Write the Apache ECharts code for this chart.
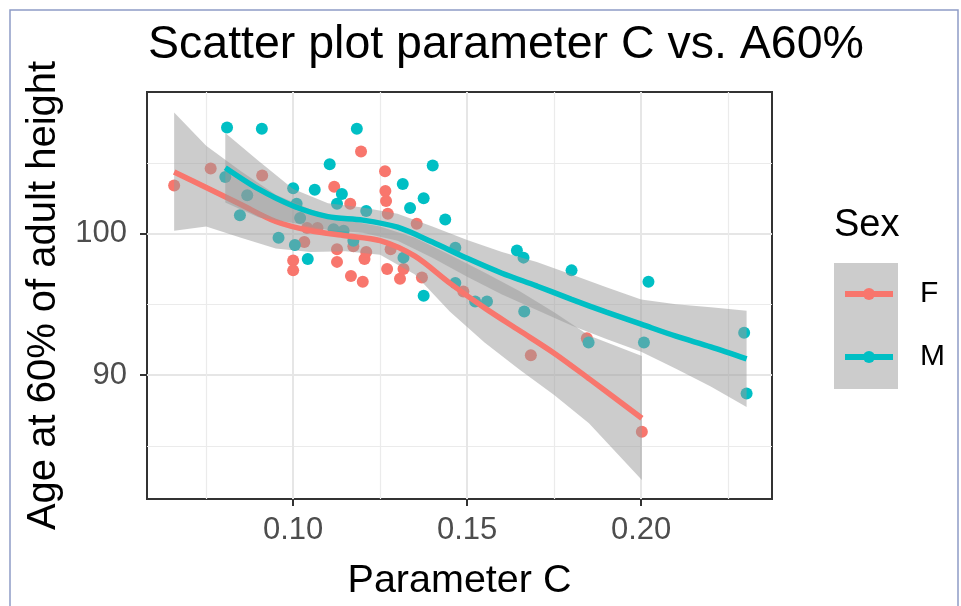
<!DOCTYPE html>
<html>
<head>
<meta charset="utf-8">
<title>Scatter plot parameter C vs. A60%</title>
<script src="https://cdn.jsdelivr.net/npm/echarts@6/dist/echarts.min.js"></script>
<style>
  html, body { margin: 0; padding: 0; background: #fff; }
  #main { width: 961px; height: 606px; }
</style>
</head>
<body>
<div id="main"></div>
<script>
// points
var femaleC   = [0.0658, 0.0763, 0.0911, 0.1000, 0.1000, 0.1032, 0.1040, 0.1070, 0.1118, 0.1126, 0.1126, 0.1164, 0.1166, 0.1173, 0.1195, 0.1200, 0.1205, 0.1210, 0.1264, 0.1265, 0.1267, 0.1272, 0.1280, 0.1270, 0.1307, 0.1317, 0.1355, 0.1370, 0.1489, 0.1683, 0.1844, 0.2002];
var femaleAge = [103.4, 104.6, 104.1, 98.1, 97.4, 99.4, 100.4, 100.4, 103.3, 98.9, 98.0, 102.1, 97.0, 99.1, 105.8, 96.6, 98.2, 98.7, 104.4, 103.0, 102.3, 101.4, 98.9, 97.5, 96.8, 97.5, 100.7, 96.9, 95.9, 91.4, 92.6, 86.0];

var maleC   = [0.0810, 0.0910, 0.0805, 0.0868, 0.0847, 0.0958, 0.1000, 0.1010, 0.1020, 0.1005, 0.1042, 0.1062, 0.1105, 0.1116, 0.1126, 0.1140, 0.1145, 0.1173, 0.1183, 0.1210, 0.1315, 0.1317, 0.1336, 0.1375, 0.1375, 0.1401, 0.1437, 0.1466, 0.1466, 0.1523, 0.1557, 0.1643, 0.1662, 0.1664, 0.1800, 0.1849, 0.2008, 0.2021, 0.2296, 0.2303];
var maleAge = [107.5, 107.4, 104.0, 102.7, 101.3, 99.7, 103.2, 102.1, 101.1, 99.2, 98.2, 103.1, 104.9, 100.3, 102.1, 102.8, 100.2, 99.5, 107.4, 101.6, 103.5, 98.3, 101.8, 102.5, 95.6, 104.8, 101.0, 99.0, 96.5, 95.2, 95.2, 98.8, 98.3, 94.5, 97.4, 92.3, 92.3, 96.6, 93.0, 88.7];

// loess curves and their bands
var fitFx  = [0.0658, 0.075, 0.085, 0.095, 0.105, 0.115, 0.125, 0.135, 0.145, 0.155, 0.165, 0.175, 0.185, 0.2002];
var fitF   = [104.35, 103.25, 102.05, 100.85, 100.2, 99.85, 99.5, 98.4, 96.5, 94.75, 93.15, 91.55, 89.75, 86.95];
var loF    = [100.2, 100.5, 99.7, 98.95, 98.7, 98.75, 98.5, 97.1, 94.5, 92.3, 90.4, 88.6, 86.6, 82.6];
var hiF    = [108.55, 106.2, 104.4, 102.75, 101.7, 100.95, 100.5, 99.7, 98.5, 97.25, 95.95, 94.45, 92.8, 91.35];

var fitMx  = [0.0805, 0.09, 0.10, 0.11, 0.12, 0.13, 0.14, 0.15, 0.16, 0.17, 0.18, 0.19, 0.20, 0.21, 0.22, 0.2303];
var fitM   = [104.65, 103.15, 101.95, 101.2, 100.95, 100.45, 99.4, 98.25, 97.2, 96.3, 95.35, 94.45, 93.6, 92.75, 92.0, 91.15];
var loM    = [102.2, 101.15, 100.75, 100.25, 100.05, 99.5, 98.3, 96.95, 95.7, 94.6, 93.5, 92.55, 91.65, 90.45, 89.2, 87.75];
var hiM    = [107.1, 105.15, 103.15, 102.15, 101.85, 101.4, 100.5, 99.55, 98.7, 98.0, 97.1, 96.2, 95.35, 95.0, 94.8, 94.55];

var xTicks = [0.10, 0.15, 0.20];
var xMinor = [0.075, 0.125, 0.175, 0.225];
var yTicks = [90, 100];
var yMinor = [85, 95, 105];

var RED = '#F8766D', TEAL = '#00BFC4';
var FONT = 'Liberation Sans, Arial, sans-serif';

function pairs(xs, ys) {
    return xs.map(function (x, i) { return [x, ys[i]]; });
}

var myChart = echarts.init(document.getElementById('main'));

var gridLine = { show: true, lineStyle: { color: '#E6E6E6', width: 2 } };
var minorLine = { show: true, lineStyle: { color: '#EBEBEB', width: 1.2 } };

// grey confidence ribbon: one polygon, upper edge then lower edge back
function bandSeries(name, xs, lo, hi, z) {
    return {
        name: name + ' se', type: 'custom', silent: true, z: z,
        data: xs.map(function (x, i) { return [x, lo[i], hi[i]]; }),
        encode: { x: 0, y: [1, 2] },
        renderItem: function (params, api) {
            if (params.dataIndex !== 0) return null;
            var pts = [];
            for (var i = 0; i < xs.length; i++) pts.push(api.coord([xs[i], hi[i]]));
            for (var j = xs.length - 1; j >= 0; j--) pts.push(api.coord([xs[j], lo[j]]));
            return {
                type: 'polygon',
                shape: { points: pts },
                style: { fill: 'rgba(153,153,153,0.5)' }
            };
        }
    };
}

var option = {
    animation: false,
    title: [{
        text: 'Scatter plot parameter C vs. A60%',
        left: 148, top: 22, padding: 0,
        textStyle: { fontFamily: FONT, fontSize: 46.5, fontWeight: 'normal', color: '#000' }
    }, {
        text: 'Sex',
        left: 834, top: 207, padding: 0,
        textStyle: { fontFamily: FONT, fontSize: 38, fontWeight: 'normal', color: '#000' }
    }],
    graphic: [{
        type: 'rect', z: -10,
        shape: { x: 10, y: 10, width: 948, height: 600 },
        style: { fill: 'none', stroke: '#8E9CC6', lineWidth: 1.5 }
    }, {
        type: 'rect', z: -1,
        shape: { x: 834, y: 263, width: 64, height: 126 },
        style: { fill: '#CCCCCC' }
    }],
    legend: {
        data: ['F', 'M'],
        orient: 'vertical',
        left: 842, top: 279, padding: 0,
        itemWidth: 48, itemHeight: 15, itemGap: 33,
        selectedMode: false,
        lineStyle: { width: 6 },
        textStyle: { fontFamily: FONT, fontSize: 30, color: '#000', padding: [0, 0, 0, 22] }
    },
    grid: {
        left: 147, right: 189, top: 92, bottom: 105,
        show: true, borderColor: '#333333', borderWidth: 2, backgroundColor: 'transparent'
    },
    xAxis: [{
        type: 'value', min: 0.058, max: 0.2376,
        name: 'Parameter C', nameLocation: 'middle', nameGap: 62,
        nameTextStyle: { fontFamily: FONT, fontSize: 39.5, color: '#000' },
        axisLine: { show: false },
        axisTick: { show: true, length: 7, customValues: xTicks, lineStyle: { color: '#333', width: 2 } },
        axisLabel: { customValues: xTicks, margin: 16, fontFamily: FONT, fontSize: 31, color: '#4D4D4D',
            formatter: function (v) { return v.toFixed(2); } },
        splitLine: gridLine
    }, {
        type: 'value', min: 0.058, max: 0.2376, show: true,
        axisLine: { show: false },
        axisTick: { show: false, customValues: xMinor },
        axisLabel: { show: false, customValues: xMinor },
        splitLine: minorLine
    }],
    yAxis: [{
        type: 'value', min: 81.25, max: 110,
        name: 'Age at 60% of adult height', nameLocation: 'middle', nameGap: 80,
        nameTextStyle: { fontFamily: FONT, fontSize: 40, color: '#000' },
        axisLine: { show: false },
        axisTick: { show: true, length: 7, customValues: yTicks, lineStyle: { color: '#333', width: 2 } },
        axisLabel: { customValues: yTicks, margin: 20, fontFamily: FONT, fontSize: 31, color: '#4D4D4D' },
        splitLine: gridLine
    }, {
        type: 'value', min: 81.25, max: 110, show: true,
        axisLine: { show: false },
        axisTick: { show: false, customValues: yMinor },
        axisLabel: { show: false, customValues: yMinor },
        splitLine: minorLine
    }],
    series: [{
        name: 'F points', type: 'scatter', data: pairs(femaleC, femaleAge), z: 1,
        symbolSize: 12, itemStyle: { color: RED, opacity: 1 }
    }, {
        name: 'M points', type: 'scatter', data: pairs(maleC, maleAge), z: 1,
        symbolSize: 12, itemStyle: { color: TEAL, opacity: 1 }
    },
    bandSeries('F', fitFx, loF, hiF, 2),
    {
        name: 'F', type: 'line', data: pairs(fitFx, fitF), smooth: 0.3, z: 3,
        symbol: 'circle', showSymbol: false,
        lineStyle: { color: RED, width: 5.5 }, itemStyle: { color: RED }
    },
    bandSeries('M', fitMx, loM, hiM, 4),
    {
        name: 'M', type: 'line', data: pairs(fitMx, fitM), smooth: 0.3, z: 5,
        symbol: 'circle', showSymbol: false,
        lineStyle: { color: TEAL, width: 5.5 }, itemStyle: { color: TEAL }
    }]
};

myChart.setOption(option);
</script>
</body>
</html>
